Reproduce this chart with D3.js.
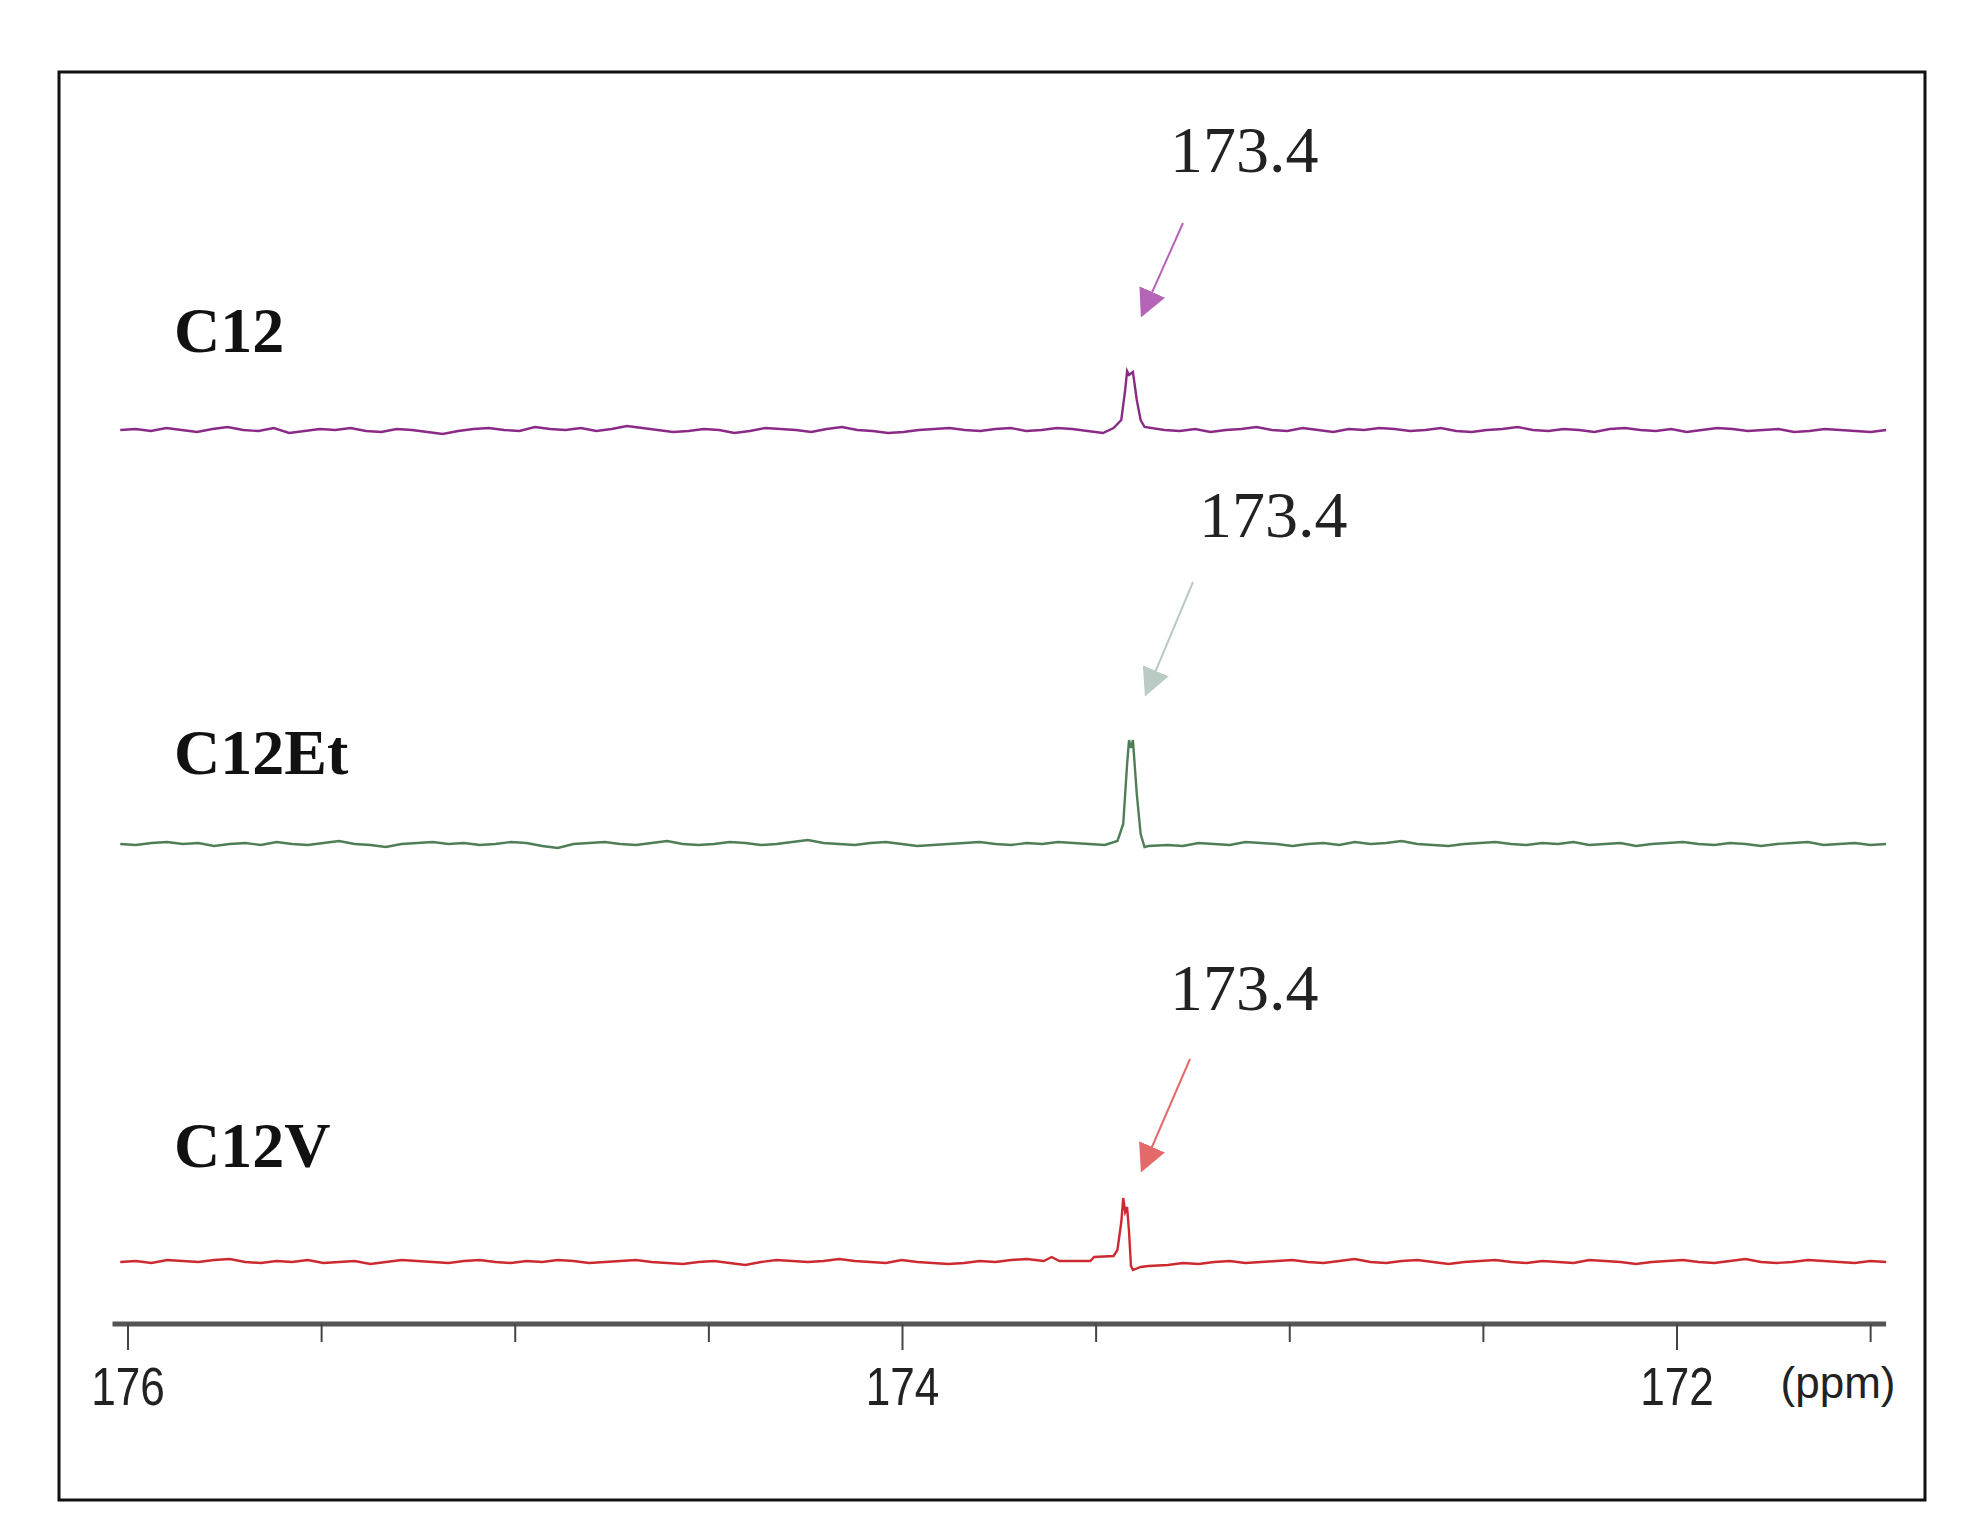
<!DOCTYPE html>
<html><head><meta charset="utf-8">
<script src="https://cdn.jsdelivr.net/npm/d3@7"></script>
<style>body{margin:0;background:#fff}</style>
</head><body>
<svg id="chart" width="1963" height="1533"></svg>
<script>
const gridStart = 176.02, gridEnd = 171.46;

const c12Noise = [0,1,-1,2,0,-2,1,3,0,-1,2,-3,-1,1,0,2,-1,-2,1,0,-2,-4,-1,
  1,2,0,-1,3,1,0,2,-1,1,4,2,0,-2,-1,1,0,-3,-1,2,1,0,-2,1,
  3,0,-1,-3,-2,0,1,2,0,-1,1,2,-1,0,2,1,-1,-3,0,1,2,0,-1,
  1,-2,0,1,3,0,-1,2,0,-2,1,0,2,1,-1,0,2,-1,-2,0,1,3,0,
  -1,1,0,-2,1,2,0,-1,1,-2,0,2,1,-1,0,1,-2,-1,1,0,-1,-2,0];
const c12EtNoise = [0,-1,1,2,0,1,-2,0,1,-1,2,0,-1,1,3,0,-1,-3,0,1,2,0,1,
  -1,0,2,1,-2,-4,0,1,2,0,-1,1,3,0,-1,0,2,1,-1,0,2,4,1,
  0,-1,1,2,0,-2,-1,0,1,2,0,-1,1,0,2,1,0,-1,1,2,0,-1,-2,
  1,0,-1,2,1,0,-2,0,1,-1,2,0,1,3,0,-1,-2,0,1,2,0,-1,
  1,0,2,-1,0,1,-2,0,1,2,0,-1,1,0,-2,0,1,2,-1,0,1,-1,0];
const c12VNoise = [0,1,-1,2,1,0,2,3,0,-1,1,0,2,-1,0,1,-2,0,2,1,0,-1,1,
  2,0,-1,1,0,2,1,-1,0,1,2,0,-1,-2,0,1,-1,-3,0,2,1,0,1,
  3,1,0,-1,2,0,-1,-2,-1,1,0,2,3,1,2,0,1,0,2,1,-1,0,
  -1,-2,0,1,-1,0,1,2,0,-1,1,3,0,-1,1,2,0,-2,0,1,2,0,-1,
  1,0,-1,2,1,0,-2,0,1,2,0,-1,1,3,0,-1,0,2,1,0,-1,1,0];

const c12Peak = [[173.455,2],[173.435,10],[173.425,40],[173.42,59],[173.415,55],[173.405,58],[173.395,30],[173.385,10],[173.375,3]];
const c12EtPeak = [[173.445,3],[173.43,20],[173.42,80],[173.415,104],[173.41,96],[173.405,104],[173.395,50],[173.385,10],[173.375,-3],[173.365,-2]];
const c12VPeak = [[173.635,1],[173.615,5],[173.595,1],[173.515,1],[173.505,5],[173.455,6],[173.445,12],[173.435,40],[173.43,64],[173.425,50],[173.42,55],[173.415,30],[173.41,-4],[173.405,-8],[173.385,-5],[173.365,-4],[173.315,-3]];

const names = ["C12", "C12Et", "C12V"];
const peakLabels = ["173.4", "173.4", "173.4"];
const axisTicks = [176, 174, 172];

const series = [
  {name: names[0], noise: c12Noise, peak: c12Peak, skip: [173.36, 173.47], color: "#8a2a86", arrow: "#b564b8", base: 430, lab: [174, 352], plab: [1170, 172], ar: [[1183,223],[1142,315]]},
  {name: names[1], noise: c12EtNoise, peak: c12EtPeak, skip: [173.35, 173.46], color: "#4f7d55", arrow: "#b9cbc2", base: 844, lab: [174, 774], plab: [1199, 537], ar: [[1193,582],[1146,694]]},
  {name: names[2], noise: c12VNoise, peak: c12VPeak, skip: [173.3, 173.65], color: "#cc2a30", arrow: "#e46a6a", base: 1262, lab: [174, 1167], plab: [1170, 1010], ar: [[1190,1059],[1142,1170]]}
];

const svg = d3.select("#chart");
svg.append("rect").attr("x", 59).attr("y", 72).attr("width", 1866).attr("height", 1428)
  .attr("fill", "none").attr("stroke", "#111").attr("stroke-width", 3);

const x = d3.scaleLinear().domain([176, 172]).range([128, 1677]);
const axisY = 1324;

const defs = svg.append("defs");

series.forEach((s, i) => {
  const n = s.noise.length;
  const step = (gridStart - gridEnd) / (n - 1);
  let pts = s.noise.map((v, k) => [gridStart - k * step, v])
    .filter(p => p[0] < s.skip[0] || p[0] > s.skip[1]);
  pts = pts.concat(s.peak).sort((a, b) => b[0] - a[0]);
  const y = d3.scaleLinear().domain([0, 100]).range([s.base, s.base - 100]);
  const line = d3.line().x(d => x(d[0])).y(d => y(d[1]));
  svg.append("path").datum(pts).attr("d", line).attr("fill", "none")
    .attr("stroke", s.color).attr("stroke-width", 2.4);

  svg.append("text").attr("x", s.lab[0]).attr("y", s.lab[1]).text(s.name)
    .attr("font-family", "Liberation Serif, serif").attr("font-weight", "bold")
    .attr("font-size", 64).attr("fill", "#111");
  svg.append("text").attr("x", s.plab[0]).attr("y", s.plab[1]).text(peakLabels[i])
    .attr("font-family", "Liberation Serif, serif").attr("font-size", 66).attr("fill", "#222");

  defs.append("marker").attr("id", "ah" + i).attr("viewBox", "0 0 10 10")
    .attr("refX", 9).attr("refY", 5)
    .attr("markerUnits", "userSpaceOnUse").attr("orient", "auto")
    .attr("markerWidth", 28).attr("markerHeight", 28)
    .append("path").attr("d", "M0,0L10,5L0,10Z").attr("fill", s.arrow);
  svg.append("line").attr("x1", s.ar[0][0]).attr("y1", s.ar[0][1])
    .attr("x2", s.ar[1][0]).attr("y2", s.ar[1][1])
    .attr("stroke", s.arrow).attr("stroke-width", 2).attr("marker-end", `url(#ah${i})`);
});

// ppm axis
const axisScale = d3.scaleLinear().domain([176.04, 171.46]).range([x(176.04), x(171.46)]);
const g = svg.append("g").attr("transform", `translate(0,${axisY})`);
g.append("line").attr("x1", x(176.04)).attr("x2", x(171.46)).attr("stroke", "#555").attr("stroke-width", 5);
const minor = d3.range(0, 10).map(k => 176 - k * 0.5);
g.selectAll("line.tk").data(minor).join("line").attr("class", "tk")
  .attr("x1", d => axisScale(d)).attr("x2", d => axisScale(d))
  .attr("y1", 0).attr("y2", d => axisTicks.includes(d) ? 26 : 18)
  .attr("stroke", "#444").attr("stroke-width", 2);
g.selectAll("text.tl").data(axisTicks).join("text").attr("class", "tl")
  .attr("x", d => axisScale(d)).attr("y", 74).attr("text-anchor", "middle")
  .attr("font-family", "Liberation Sans, Arial, sans-serif").attr("font-size", 48).attr("fill", "#222")
  .attr("transform", d => `translate(${axisScale(d)},0) scale(0.92,1.1) translate(${-axisScale(d)},0)`)
  .text(d => d);
g.append("text").attr("x", 1838).attr("y", 74).attr("text-anchor", "middle")
  .attr("font-family", "Liberation Sans, Arial, sans-serif").attr("font-size", 44).attr("fill", "#222")
  .text("(ppm)");
</script>
</body></html>
